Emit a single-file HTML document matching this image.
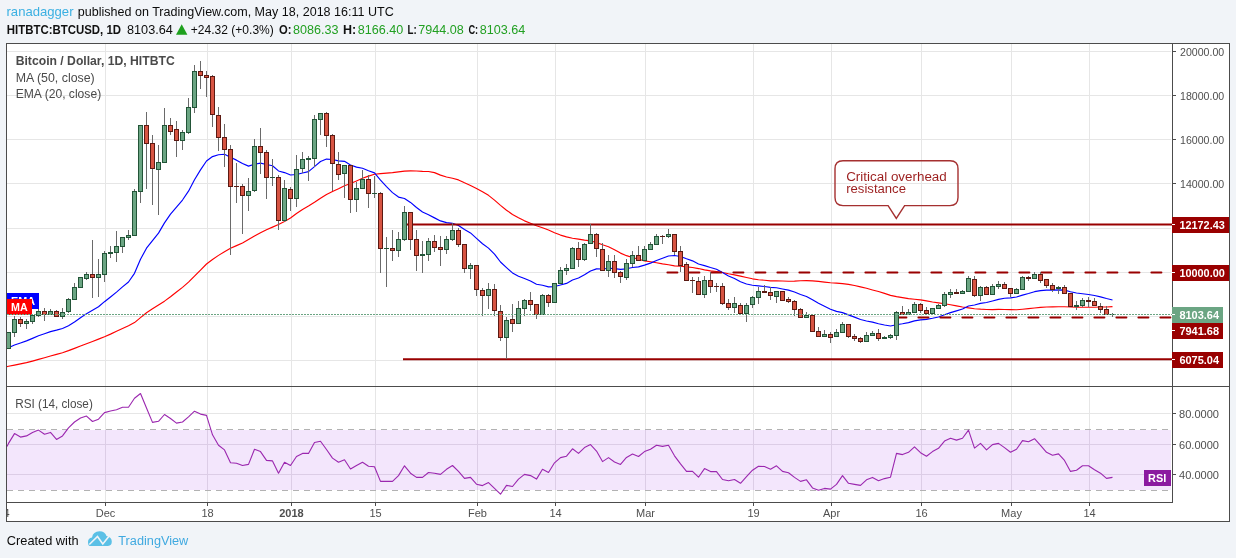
<!DOCTYPE html>
<html><head><meta charset="utf-8"><title>BTCUSD chart</title><style>html,body{margin:0;padding:0;background:#f1f4f8;}svg text{font-family:"Liberation Sans",sans-serif;}svg{will-change:transform;}</style></head><body>
<svg width="1236" height="558" viewBox="0 0 1236 558" style="display:block;font-family:'Liberation Sans',sans-serif">
<rect x="0" y="0" width="1236" height="558" fill="#f1f4f8"/>
<text x="6.5" y="15.8" font-size="13" fill="#3bb0e2" textLength="67" lengthAdjust="spacingAndGlyphs">ranadagger</text>
<text x="77.8" y="15.8" font-size="12.5" fill="#0c0c0c" textLength="316" lengthAdjust="spacingAndGlyphs">published on TradingView.com, May 18, 2018 16:11 UTC</text>
<text x="6.8" y="33.9" font-size="12" fill="#111" font-weight="bold" textLength="114.2" lengthAdjust="spacingAndGlyphs">HITBTC:BTCUSD, 1D</text>
<text x="127" y="33.9" font-size="12.5" fill="#0c0c0c" textLength="45.8" lengthAdjust="spacingAndGlyphs">8103.64</text>
<polygon points="176,34.8 187.4,34.8 181.7,24.3" fill="#1ea01e"/>
<text x="190.8" y="33.9" font-size="12.5" fill="#0c0c0c" textLength="83" lengthAdjust="spacingAndGlyphs">+24.32 (+0.3%)</text>
<text x="279" y="33.9" font-size="12" fill="#111" font-weight="bold" textLength="12.5" lengthAdjust="spacingAndGlyphs">O:</text>
<text x="293" y="33.9" font-size="12.5" fill="#22a022" textLength="45.5" lengthAdjust="spacingAndGlyphs">8086.33</text>
<text x="343" y="33.9" font-size="12" fill="#111" font-weight="bold" textLength="13.2" lengthAdjust="spacingAndGlyphs">H:</text>
<text x="357.7" y="33.9" font-size="12.5" fill="#22a022" textLength="45.5" lengthAdjust="spacingAndGlyphs">8166.40</text>
<text x="407.5" y="33.9" font-size="12" fill="#111" font-weight="bold" textLength="9.2" lengthAdjust="spacingAndGlyphs">L:</text>
<text x="418.2" y="33.9" font-size="12.5" fill="#22a022" textLength="45.5" lengthAdjust="spacingAndGlyphs">7944.08</text>
<text x="468.4" y="33.9" font-size="12" fill="#111" font-weight="bold" textLength="9.8" lengthAdjust="spacingAndGlyphs">C:</text>
<text x="479.7" y="33.9" font-size="12.5" fill="#22a022" textLength="45.5" lengthAdjust="spacingAndGlyphs">8103.64</text>
<rect x="6.5" y="43.5" width="1223" height="478" fill="#ffffff" stroke="#4c4c4c" stroke-width="1"/>
<g shape-rendering="crispEdges">
<rect x="105" y="44" width="1" height="342" fill="#e6e6e6"/>
<rect x="105" y="387" width="1" height="115" fill="#e6e6e6"/>
<rect x="207" y="44" width="1" height="342" fill="#e6e6e6"/>
<rect x="207" y="387" width="1" height="115" fill="#e6e6e6"/>
<rect x="291" y="44" width="1" height="342" fill="#e6e6e6"/>
<rect x="291" y="387" width="1" height="115" fill="#e6e6e6"/>
<rect x="375" y="44" width="1" height="342" fill="#e6e6e6"/>
<rect x="375" y="387" width="1" height="115" fill="#e6e6e6"/>
<rect x="477" y="44" width="1" height="342" fill="#e6e6e6"/>
<rect x="477" y="387" width="1" height="115" fill="#e6e6e6"/>
<rect x="555" y="44" width="1" height="342" fill="#e6e6e6"/>
<rect x="555" y="387" width="1" height="115" fill="#e6e6e6"/>
<rect x="645" y="44" width="1" height="342" fill="#e6e6e6"/>
<rect x="645" y="387" width="1" height="115" fill="#e6e6e6"/>
<rect x="753" y="44" width="1" height="342" fill="#e6e6e6"/>
<rect x="753" y="387" width="1" height="115" fill="#e6e6e6"/>
<rect x="831" y="44" width="1" height="342" fill="#e6e6e6"/>
<rect x="831" y="387" width="1" height="115" fill="#e6e6e6"/>
<rect x="921" y="44" width="1" height="342" fill="#e6e6e6"/>
<rect x="921" y="387" width="1" height="115" fill="#e6e6e6"/>
<rect x="1011" y="44" width="1" height="342" fill="#e6e6e6"/>
<rect x="1011" y="387" width="1" height="115" fill="#e6e6e6"/>
<rect x="1089" y="44" width="1" height="342" fill="#e6e6e6"/>
<rect x="1089" y="387" width="1" height="115" fill="#e6e6e6"/>
<rect x="7" y="51" width="1164" height="1" fill="#e6e6e6"/>
<rect x="7" y="95" width="1164" height="1" fill="#e6e6e6"/>
<rect x="7" y="139" width="1164" height="1" fill="#e6e6e6"/>
<rect x="7" y="183" width="1164" height="1" fill="#e6e6e6"/>
<rect x="7" y="228" width="1164" height="1" fill="#e6e6e6"/>
<rect x="7" y="272" width="1164" height="1" fill="#e6e6e6"/>
<rect x="7" y="316" width="1164" height="1" fill="#e6e6e6"/>
<rect x="7" y="360" width="1164" height="1" fill="#e6e6e6"/>
</g>
<clipPath id="pc"><rect x="7" y="44" width="1165" height="342"/></clipPath>
<g clip-path="url(#pc)">
<polyline points="7,366.60 8.5,366.30 14.5,365.07 20.5,363.84 26.5,362.61 32.5,361.08 38.5,359.41 44.5,357.73 50.5,356.05 56.5,354.38 62.5,352.70 68.5,350.66 74.5,348.37 80.5,346.08 86.5,343.78 92.5,341.49 98.5,339.10 104.5,336.70 110.5,334.13 116.5,331.33 122.5,328.53 128.5,325.73 134.5,322.58 140.5,317.64 146.5,312.70 152.5,308.85 158.5,305.00 164.5,301.15 170.5,296.72 176.5,292.03 182.5,287.34 188.5,282.10 194.5,276.10 200.5,270.07 206.5,264.01 212.5,259.48 218.5,255.38 224.5,251.67 230.5,248.19 236.5,245.62 242.5,243.06 248.5,239.58 254.5,236.07 260.5,232.77 266.5,229.67 272.5,227.11 278.5,224.54 284.5,221.55 290.5,218.03 296.5,213.54 302.5,209.43 308.5,206.10 314.5,202.34 320.5,198.17 326.5,194.45 332.5,191.43 338.5,188.69 344.5,185.71 350.5,183.47 356.5,180.91 362.5,178.24 368.5,176.12 374.5,174.25 380.5,173.67 386.5,173.15 392.5,172.61 398.5,171.90 404.5,171.09 410.5,170.84 416.5,171.03 422.5,171.36 428.5,171.49 434.5,172.61 440.5,175.10 446.5,177.02 452.5,178.26 458.5,179.91 464.5,182.77 470.5,185.45 476.5,188.43 482.5,191.69 488.5,195.34 494.5,200.12 500.5,205.36 506.5,210.22 512.5,214.41 518.5,217.83 524.5,220.84 530.5,223.20 536.5,225.75 542.5,227.75 548.5,229.98 554.5,232.72 560.5,235.08 566.5,236.89 572.5,238.30 578.5,239.08 584.5,240.19 590.5,240.91 596.5,242.51 602.5,244.73 608.5,246.79 614.5,249.85 620.5,253.12 626.5,255.67 632.5,257.50 638.5,259.22 644.5,260.89 650.5,261.78 656.5,262.75 662.5,263.90 668.5,264.71 674.5,265.88 680.5,266.22 686.5,266.86 692.5,267.46 698.5,268.56 704.5,269.92 710.5,270.85 716.5,271.46 722.5,272.45 728.5,273.78 734.5,274.88 740.5,276.16 746.5,277.48 752.5,278.81 758.5,279.75 764.5,280.23 770.5,280.83 776.5,280.87 782.5,280.96 788.5,281.21 794.5,281.18 800.5,280.78 806.5,280.69 812.5,280.84 818.5,281.41 824.5,282.08 830.5,282.75 836.5,283.11 842.5,283.68 848.5,284.37 854.5,285.47 860.5,286.90 866.5,288.24 872.5,289.94 878.5,291.53 884.5,293.39 890.5,295.41 896.5,296.68 902.5,297.57 908.5,298.59 914.5,299.22 920.5,299.91 926.5,300.92 932.5,301.98 938.5,302.88 944.5,303.78 950.5,304.74 956.5,305.88 962.5,306.98 968.5,307.86 974.5,308.74 980.5,309.18 986.5,309.46 992.5,309.57 998.5,309.37 1004.5,309.52 1010.5,309.67 1016.5,309.73 1022.5,309.21 1028.5,308.62 1034.5,308.04 1040.5,307.38 1046.5,306.99 1052.5,306.84 1058.5,306.76 1064.5,306.78 1070.5,307.00 1076.5,307.28 1082.5,307.28 1088.5,307.28 1094.5,307.20 1100.5,307.03 1106.5,307.01 1112.5,306.66" fill="none" stroke="#ff0000" stroke-width="1.15" stroke-linejoin="round"/>
<polyline points="7,348.00 8.5,347.70 14.5,344.97 20.5,342.92 26.5,340.86 32.5,338.40 38.5,335.82 44.5,333.76 50.5,331.62 56.5,330.16 62.5,328.45 68.5,325.67 74.5,322.02 80.5,317.75 86.5,313.64 92.5,310.19 98.5,306.80 104.5,301.68 110.5,296.95 116.5,292.12 122.5,286.90 128.5,281.98 134.5,273.34 140.5,259.25 146.5,248.21 152.5,240.60 158.5,233.15 164.5,222.89 170.5,214.17 176.5,207.16 182.5,200.02 188.5,191.17 194.5,179.75 200.5,169.84 206.5,161.03 212.5,156.58 218.5,154.75 224.5,154.26 230.5,157.35 236.5,160.13 242.5,163.50 248.5,166.14 254.5,164.24 260.5,163.12 266.5,164.50 272.5,165.71 278.5,170.93 284.5,172.58 290.5,175.04 296.5,174.47 302.5,173.03 308.5,171.64 314.5,166.65 320.5,161.55 326.5,159.07 332.5,159.50 338.5,160.92 344.5,161.35 350.5,164.97 356.5,167.16 362.5,168.28 368.5,170.67 374.5,172.84 380.5,180.04 386.5,186.56 392.5,192.64 398.5,197.07 404.5,198.52 410.5,202.43 416.5,207.51 422.5,211.94 428.5,214.75 434.5,217.88 440.5,220.91 446.5,222.67 452.5,223.39 458.5,225.42 464.5,229.52 470.5,232.93 476.5,238.33 482.5,243.77 488.5,248.10 494.5,254.06 500.5,262.02 506.5,267.58 512.5,272.91 518.5,276.29 524.5,278.58 530.5,281.04 536.5,284.21 542.5,285.26 548.5,286.90 554.5,286.56 560.5,285.02 566.5,283.42 572.5,280.05 578.5,278.07 584.5,274.83 590.5,270.96 596.5,268.87 602.5,269.01 608.5,268.29 614.5,268.68 620.5,269.40 626.5,268.81 632.5,267.53 638.5,266.83 644.5,265.13 650.5,263.12 656.5,260.56 662.5,258.25 668.5,255.96 674.5,255.55 680.5,256.51 686.5,258.78 692.5,260.84 698.5,264.02 704.5,265.58 710.5,267.54 716.5,269.32 722.5,272.58 728.5,275.92 734.5,278.50 740.5,281.82 746.5,284.06 752.5,285.30 758.5,285.88 764.5,286.52 770.5,287.36 776.5,287.74 782.5,288.94 788.5,290.14 794.5,291.97 800.5,294.42 806.5,296.44 812.5,299.76 818.5,303.28 824.5,306.20 830.5,309.20 836.5,311.39 842.5,312.60 848.5,314.90 854.5,317.14 860.5,319.48 866.5,321.00 872.5,322.15 878.5,323.71 884.5,324.99 890.5,325.98 896.5,324.70 902.5,323.75 908.5,322.65 914.5,320.88 920.5,319.94 926.5,319.34 932.5,318.28 938.5,317.03 944.5,314.83 950.5,312.66 956.5,310.84 962.5,308.97 968.5,306.03 974.5,305.04 980.5,303.35 986.5,302.50 992.5,300.95 998.5,299.33 1004.5,298.27 1010.5,297.81 1016.5,297.00 1022.5,295.12 1028.5,293.54 1034.5,291.68 1040.5,290.60 1046.5,290.13 1052.5,290.08 1058.5,289.83 1064.5,290.17 1070.5,291.71 1076.5,293.01 1082.5,293.72 1088.5,294.46 1094.5,295.50 1100.5,296.83 1106.5,298.52 1112.5,299.97" fill="none" stroke="#0000ff" stroke-width="1.15" stroke-linejoin="round"/>
<line x1="407" y1="224.6" x2="1172" y2="224.6" stroke="#990000" stroke-width="2"/>
<line x1="403" y1="359.3" x2="1172" y2="359.3" stroke="#990000" stroke-width="2"/>
<line x1="667.4" y1="272.4" x2="1171" y2="272.4" stroke="#990000" stroke-width="2" stroke-linecap="round" stroke-dasharray="10 12"/>
<line x1="896.4" y1="317.5" x2="1171" y2="317.5" stroke="#990000" stroke-width="2" stroke-linecap="round" stroke-dasharray="10 12"/>
<g shape-rendering="crispEdges">
<rect x="8" y="332" width="1" height="17" fill="#6a6a6a"/>
<rect x="6" y="332" width="5" height="17" fill="#225437"/>
<rect x="7" y="333" width="3" height="15" fill="#6ba583"/>
<rect x="14" y="316" width="1" height="21" fill="#6a6a6a"/>
<rect x="12" y="319" width="5" height="14" fill="#225437"/>
<rect x="13" y="320" width="3" height="12" fill="#6ba583"/>
<rect x="20" y="317" width="1" height="10" fill="#6a6a6a"/>
<rect x="18" y="319" width="5" height="5" fill="#5b1a13"/>
<rect x="19" y="320" width="3" height="3" fill="#d75442"/>
<rect x="26" y="319" width="1" height="10" fill="#6a6a6a"/>
<rect x="24" y="321" width="5" height="3" fill="#225437"/>
<rect x="25" y="322" width="3" height="1" fill="#6ba583"/>
<rect x="32" y="314" width="1" height="10" fill="#6a6a6a"/>
<rect x="30" y="315" width="5" height="7" fill="#225437"/>
<rect x="31" y="316" width="3" height="5" fill="#6ba583"/>
<rect x="38" y="309" width="1" height="8" fill="#6a6a6a"/>
<rect x="36" y="311" width="5" height="5" fill="#225437"/>
<rect x="37" y="312" width="3" height="3" fill="#6ba583"/>
<rect x="44" y="308" width="1" height="13" fill="#6a6a6a"/>
<rect x="42" y="311" width="5" height="4" fill="#5b1a13"/>
<rect x="43" y="312" width="3" height="2" fill="#d75442"/>
<rect x="50" y="309" width="1" height="6" fill="#6a6a6a"/>
<rect x="48" y="311" width="5" height="4" fill="#225437"/>
<rect x="49" y="312" width="3" height="2" fill="#6ba583"/>
<rect x="56" y="310" width="1" height="7" fill="#6a6a6a"/>
<rect x="54" y="311" width="5" height="6" fill="#5b1a13"/>
<rect x="55" y="312" width="3" height="4" fill="#d75442"/>
<rect x="62" y="308" width="1" height="11" fill="#6a6a6a"/>
<rect x="60" y="312" width="5" height="5" fill="#225437"/>
<rect x="61" y="313" width="3" height="3" fill="#6ba583"/>
<rect x="68" y="298" width="1" height="15" fill="#6a6a6a"/>
<rect x="66" y="299" width="5" height="13" fill="#225437"/>
<rect x="67" y="300" width="3" height="11" fill="#6ba583"/>
<rect x="74" y="283" width="1" height="17" fill="#6a6a6a"/>
<rect x="72" y="287" width="5" height="13" fill="#225437"/>
<rect x="73" y="288" width="3" height="11" fill="#6ba583"/>
<rect x="80" y="277" width="1" height="11" fill="#6a6a6a"/>
<rect x="78" y="277" width="5" height="11" fill="#225437"/>
<rect x="79" y="278" width="3" height="9" fill="#6ba583"/>
<rect x="86" y="272" width="1" height="8" fill="#6a6a6a"/>
<rect x="84" y="274" width="5" height="5" fill="#225437"/>
<rect x="85" y="275" width="3" height="3" fill="#6ba583"/>
<rect x="92" y="240" width="1" height="58" fill="#6a6a6a"/>
<rect x="90" y="274" width="5" height="4" fill="#5b1a13"/>
<rect x="91" y="275" width="3" height="2" fill="#d75442"/>
<rect x="98" y="259" width="1" height="38" fill="#6a6a6a"/>
<rect x="96" y="274" width="5" height="4" fill="#225437"/>
<rect x="97" y="275" width="3" height="2" fill="#6ba583"/>
<rect x="104" y="251" width="1" height="31" fill="#6a6a6a"/>
<rect x="102" y="253" width="5" height="22" fill="#225437"/>
<rect x="103" y="254" width="3" height="20" fill="#6ba583"/>
<rect x="110" y="246" width="1" height="12" fill="#6a6a6a"/>
<rect x="108" y="252" width="5" height="2" fill="#225437"/>
<rect x="116" y="231" width="1" height="31" fill="#6a6a6a"/>
<rect x="114" y="246" width="5" height="7" fill="#225437"/>
<rect x="115" y="247" width="3" height="5" fill="#6ba583"/>
<rect x="122" y="237" width="1" height="16" fill="#6a6a6a"/>
<rect x="120" y="237" width="5" height="10" fill="#225437"/>
<rect x="121" y="238" width="3" height="8" fill="#6ba583"/>
<rect x="128" y="230" width="1" height="10" fill="#6a6a6a"/>
<rect x="126" y="235" width="5" height="3" fill="#225437"/>
<rect x="127" y="236" width="3" height="1" fill="#6ba583"/>
<rect x="134" y="189" width="1" height="47" fill="#6a6a6a"/>
<rect x="132" y="191" width="5" height="45" fill="#225437"/>
<rect x="133" y="192" width="3" height="43" fill="#6ba583"/>
<rect x="140" y="125" width="1" height="78" fill="#6a6a6a"/>
<rect x="138" y="125" width="5" height="67" fill="#225437"/>
<rect x="139" y="126" width="3" height="65" fill="#6ba583"/>
<rect x="146" y="112" width="1" height="77" fill="#6a6a6a"/>
<rect x="144" y="125" width="5" height="19" fill="#5b1a13"/>
<rect x="145" y="126" width="3" height="17" fill="#d75442"/>
<rect x="152" y="135" width="1" height="70" fill="#6a6a6a"/>
<rect x="150" y="143" width="5" height="26" fill="#5b1a13"/>
<rect x="151" y="144" width="3" height="24" fill="#d75442"/>
<rect x="158" y="145" width="1" height="70" fill="#6a6a6a"/>
<rect x="156" y="162" width="5" height="8" fill="#225437"/>
<rect x="157" y="163" width="3" height="6" fill="#6ba583"/>
<rect x="164" y="108" width="1" height="54" fill="#6a6a6a"/>
<rect x="162" y="125" width="5" height="38" fill="#225437"/>
<rect x="163" y="126" width="3" height="36" fill="#6ba583"/>
<rect x="170" y="118" width="1" height="17" fill="#6a6a6a"/>
<rect x="168" y="125" width="5" height="7" fill="#5b1a13"/>
<rect x="169" y="126" width="3" height="5" fill="#d75442"/>
<rect x="176" y="121" width="1" height="36" fill="#6a6a6a"/>
<rect x="174" y="129" width="5" height="12" fill="#5b1a13"/>
<rect x="175" y="130" width="3" height="10" fill="#d75442"/>
<rect x="182" y="130" width="1" height="20" fill="#6a6a6a"/>
<rect x="180" y="132" width="5" height="9" fill="#225437"/>
<rect x="181" y="133" width="3" height="7" fill="#6ba583"/>
<rect x="188" y="98" width="1" height="36" fill="#6a6a6a"/>
<rect x="186" y="107" width="5" height="26" fill="#225437"/>
<rect x="187" y="108" width="3" height="24" fill="#6ba583"/>
<rect x="194" y="65" width="1" height="48" fill="#6a6a6a"/>
<rect x="192" y="71" width="5" height="37" fill="#225437"/>
<rect x="193" y="72" width="3" height="35" fill="#6ba583"/>
<rect x="200" y="61" width="1" height="28" fill="#6a6a6a"/>
<rect x="198" y="71" width="5" height="5" fill="#5b1a13"/>
<rect x="199" y="72" width="3" height="3" fill="#d75442"/>
<rect x="206" y="71" width="1" height="26" fill="#6a6a6a"/>
<rect x="204" y="75" width="5" height="3" fill="#5b1a13"/>
<rect x="205" y="76" width="3" height="1" fill="#d75442"/>
<rect x="212" y="75" width="1" height="52" fill="#6a6a6a"/>
<rect x="210" y="76" width="5" height="39" fill="#5b1a13"/>
<rect x="211" y="77" width="3" height="37" fill="#d75442"/>
<rect x="218" y="107" width="1" height="44" fill="#6a6a6a"/>
<rect x="216" y="115" width="5" height="23" fill="#5b1a13"/>
<rect x="217" y="116" width="3" height="21" fill="#d75442"/>
<rect x="224" y="124" width="1" height="43" fill="#6a6a6a"/>
<rect x="222" y="137" width="5" height="13" fill="#5b1a13"/>
<rect x="223" y="138" width="3" height="11" fill="#d75442"/>
<rect x="230" y="145" width="1" height="110" fill="#6a6a6a"/>
<rect x="228" y="149" width="5" height="38" fill="#5b1a13"/>
<rect x="229" y="150" width="3" height="36" fill="#d75442"/>
<rect x="236" y="163" width="1" height="40" fill="#6a6a6a"/>
<rect x="234" y="186" width="5" height="1" fill="#5b1a13"/>
<rect x="242" y="184" width="1" height="50" fill="#6a6a6a"/>
<rect x="240" y="186" width="5" height="10" fill="#5b1a13"/>
<rect x="241" y="187" width="3" height="8" fill="#d75442"/>
<rect x="248" y="178" width="1" height="33" fill="#6a6a6a"/>
<rect x="246" y="191" width="5" height="5" fill="#225437"/>
<rect x="247" y="192" width="3" height="3" fill="#6ba583"/>
<rect x="254" y="139" width="1" height="53" fill="#6a6a6a"/>
<rect x="252" y="146" width="5" height="45" fill="#225437"/>
<rect x="253" y="147" width="3" height="43" fill="#6ba583"/>
<rect x="260" y="128" width="1" height="46" fill="#6a6a6a"/>
<rect x="258" y="146" width="5" height="7" fill="#5b1a13"/>
<rect x="259" y="147" width="3" height="5" fill="#d75442"/>
<rect x="266" y="150" width="1" height="49" fill="#6a6a6a"/>
<rect x="264" y="152" width="5" height="26" fill="#5b1a13"/>
<rect x="265" y="153" width="3" height="24" fill="#d75442"/>
<rect x="272" y="159" width="1" height="27" fill="#6a6a6a"/>
<rect x="270" y="177" width="5" height="1" fill="#225437"/>
<rect x="278" y="175" width="1" height="55" fill="#6a6a6a"/>
<rect x="276" y="177" width="5" height="44" fill="#5b1a13"/>
<rect x="277" y="178" width="3" height="42" fill="#d75442"/>
<rect x="284" y="180" width="1" height="42" fill="#6a6a6a"/>
<rect x="282" y="188" width="5" height="33" fill="#225437"/>
<rect x="283" y="189" width="3" height="31" fill="#6ba583"/>
<rect x="290" y="187" width="1" height="24" fill="#6a6a6a"/>
<rect x="288" y="189" width="5" height="10" fill="#5b1a13"/>
<rect x="289" y="190" width="3" height="8" fill="#d75442"/>
<rect x="296" y="155" width="1" height="52" fill="#6a6a6a"/>
<rect x="294" y="169" width="5" height="30" fill="#225437"/>
<rect x="295" y="170" width="3" height="28" fill="#6ba583"/>
<rect x="302" y="152" width="1" height="21" fill="#6a6a6a"/>
<rect x="300" y="159" width="5" height="10" fill="#225437"/>
<rect x="301" y="160" width="3" height="8" fill="#6ba583"/>
<rect x="308" y="156" width="1" height="25" fill="#6a6a6a"/>
<rect x="306" y="158" width="5" height="2" fill="#225437"/>
<rect x="314" y="115" width="1" height="52" fill="#6a6a6a"/>
<rect x="312" y="119" width="5" height="40" fill="#225437"/>
<rect x="313" y="120" width="3" height="38" fill="#6ba583"/>
<rect x="320" y="113" width="1" height="22" fill="#6a6a6a"/>
<rect x="318" y="113" width="5" height="7" fill="#225437"/>
<rect x="319" y="114" width="3" height="5" fill="#6ba583"/>
<rect x="326" y="112" width="1" height="35" fill="#6a6a6a"/>
<rect x="324" y="113" width="5" height="23" fill="#5b1a13"/>
<rect x="325" y="114" width="3" height="21" fill="#d75442"/>
<rect x="332" y="134" width="1" height="57" fill="#6a6a6a"/>
<rect x="330" y="135" width="5" height="29" fill="#5b1a13"/>
<rect x="331" y="136" width="3" height="27" fill="#d75442"/>
<rect x="338" y="152" width="1" height="28" fill="#6a6a6a"/>
<rect x="336" y="164" width="5" height="11" fill="#5b1a13"/>
<rect x="337" y="165" width="3" height="9" fill="#d75442"/>
<rect x="344" y="165" width="1" height="33" fill="#6a6a6a"/>
<rect x="342" y="165" width="5" height="9" fill="#225437"/>
<rect x="343" y="166" width="3" height="7" fill="#6ba583"/>
<rect x="350" y="165" width="1" height="48" fill="#6a6a6a"/>
<rect x="348" y="165" width="5" height="35" fill="#5b1a13"/>
<rect x="349" y="166" width="3" height="33" fill="#d75442"/>
<rect x="356" y="182" width="1" height="30" fill="#6a6a6a"/>
<rect x="354" y="188" width="5" height="12" fill="#225437"/>
<rect x="355" y="189" width="3" height="10" fill="#6ba583"/>
<rect x="362" y="170" width="1" height="18" fill="#6a6a6a"/>
<rect x="360" y="179" width="5" height="10" fill="#225437"/>
<rect x="361" y="180" width="3" height="8" fill="#6ba583"/>
<rect x="368" y="175" width="1" height="33" fill="#6a6a6a"/>
<rect x="366" y="179" width="5" height="15" fill="#5b1a13"/>
<rect x="367" y="180" width="3" height="13" fill="#d75442"/>
<rect x="374" y="176" width="1" height="22" fill="#6a6a6a"/>
<rect x="372" y="193" width="5" height="1" fill="#225437"/>
<rect x="380" y="192" width="1" height="81" fill="#6a6a6a"/>
<rect x="378" y="193" width="5" height="56" fill="#5b1a13"/>
<rect x="379" y="194" width="3" height="54" fill="#d75442"/>
<rect x="386" y="237" width="1" height="50" fill="#6a6a6a"/>
<rect x="384" y="248" width="5" height="1" fill="#225437"/>
<rect x="392" y="230" width="1" height="31" fill="#6a6a6a"/>
<rect x="390" y="248" width="5" height="3" fill="#5b1a13"/>
<rect x="391" y="249" width="3" height="1" fill="#d75442"/>
<rect x="398" y="232" width="1" height="25" fill="#6a6a6a"/>
<rect x="396" y="239" width="5" height="12" fill="#225437"/>
<rect x="397" y="240" width="3" height="10" fill="#6ba583"/>
<rect x="404" y="206" width="1" height="35" fill="#6a6a6a"/>
<rect x="402" y="212" width="5" height="28" fill="#225437"/>
<rect x="403" y="213" width="3" height="26" fill="#6ba583"/>
<rect x="410" y="212" width="1" height="38" fill="#6a6a6a"/>
<rect x="408" y="212" width="5" height="28" fill="#5b1a13"/>
<rect x="409" y="213" width="3" height="26" fill="#d75442"/>
<rect x="416" y="230" width="1" height="41" fill="#6a6a6a"/>
<rect x="414" y="239" width="5" height="17" fill="#5b1a13"/>
<rect x="415" y="240" width="3" height="15" fill="#d75442"/>
<rect x="422" y="241" width="1" height="32" fill="#6a6a6a"/>
<rect x="420" y="254" width="5" height="2" fill="#225437"/>
<rect x="428" y="238" width="1" height="23" fill="#6a6a6a"/>
<rect x="426" y="241" width="5" height="14" fill="#225437"/>
<rect x="427" y="242" width="3" height="12" fill="#6ba583"/>
<rect x="434" y="235" width="1" height="17" fill="#6a6a6a"/>
<rect x="432" y="241" width="5" height="7" fill="#5b1a13"/>
<rect x="433" y="242" width="3" height="5" fill="#d75442"/>
<rect x="440" y="236" width="1" height="30" fill="#6a6a6a"/>
<rect x="438" y="247" width="5" height="3" fill="#5b1a13"/>
<rect x="439" y="248" width="3" height="1" fill="#d75442"/>
<rect x="446" y="236" width="1" height="18" fill="#6a6a6a"/>
<rect x="444" y="239" width="5" height="11" fill="#225437"/>
<rect x="445" y="240" width="3" height="9" fill="#6ba583"/>
<rect x="452" y="223" width="1" height="18" fill="#6a6a6a"/>
<rect x="450" y="230" width="5" height="10" fill="#225437"/>
<rect x="451" y="231" width="3" height="8" fill="#6ba583"/>
<rect x="458" y="228" width="1" height="19" fill="#6a6a6a"/>
<rect x="456" y="230" width="5" height="15" fill="#5b1a13"/>
<rect x="457" y="231" width="3" height="13" fill="#d75442"/>
<rect x="464" y="244" width="1" height="29" fill="#6a6a6a"/>
<rect x="462" y="244" width="5" height="25" fill="#5b1a13"/>
<rect x="463" y="245" width="3" height="23" fill="#d75442"/>
<rect x="470" y="263" width="1" height="16" fill="#6a6a6a"/>
<rect x="468" y="265" width="5" height="4" fill="#225437"/>
<rect x="469" y="266" width="3" height="2" fill="#6ba583"/>
<rect x="476" y="265" width="1" height="31" fill="#6a6a6a"/>
<rect x="474" y="265" width="5" height="25" fill="#5b1a13"/>
<rect x="475" y="266" width="3" height="23" fill="#d75442"/>
<rect x="482" y="288" width="1" height="28" fill="#6a6a6a"/>
<rect x="480" y="290" width="5" height="6" fill="#5b1a13"/>
<rect x="481" y="291" width="3" height="4" fill="#d75442"/>
<rect x="488" y="283" width="1" height="26" fill="#6a6a6a"/>
<rect x="486" y="289" width="5" height="7" fill="#225437"/>
<rect x="487" y="290" width="3" height="5" fill="#6ba583"/>
<rect x="494" y="284" width="1" height="32" fill="#6a6a6a"/>
<rect x="492" y="289" width="5" height="22" fill="#5b1a13"/>
<rect x="493" y="290" width="3" height="20" fill="#d75442"/>
<rect x="500" y="305" width="1" height="36" fill="#6a6a6a"/>
<rect x="498" y="311" width="5" height="27" fill="#5b1a13"/>
<rect x="499" y="312" width="3" height="25" fill="#d75442"/>
<rect x="506" y="317" width="1" height="42" fill="#6a6a6a"/>
<rect x="504" y="320" width="5" height="18" fill="#225437"/>
<rect x="505" y="321" width="3" height="16" fill="#6ba583"/>
<rect x="512" y="304" width="1" height="28" fill="#6a6a6a"/>
<rect x="510" y="319" width="5" height="5" fill="#5b1a13"/>
<rect x="511" y="320" width="3" height="3" fill="#d75442"/>
<rect x="518" y="301" width="1" height="23" fill="#6a6a6a"/>
<rect x="516" y="308" width="5" height="16" fill="#225437"/>
<rect x="517" y="309" width="3" height="14" fill="#6ba583"/>
<rect x="524" y="299" width="1" height="17" fill="#6a6a6a"/>
<rect x="522" y="300" width="5" height="9" fill="#225437"/>
<rect x="523" y="301" width="3" height="7" fill="#6ba583"/>
<rect x="530" y="292" width="1" height="19" fill="#6a6a6a"/>
<rect x="528" y="300" width="5" height="5" fill="#5b1a13"/>
<rect x="529" y="301" width="3" height="3" fill="#d75442"/>
<rect x="536" y="304" width="1" height="15" fill="#6a6a6a"/>
<rect x="534" y="304" width="5" height="11" fill="#5b1a13"/>
<rect x="535" y="305" width="3" height="9" fill="#d75442"/>
<rect x="542" y="294" width="1" height="20" fill="#6a6a6a"/>
<rect x="540" y="295" width="5" height="20" fill="#225437"/>
<rect x="541" y="296" width="3" height="18" fill="#6ba583"/>
<rect x="548" y="294" width="1" height="13" fill="#6a6a6a"/>
<rect x="546" y="295" width="5" height="8" fill="#5b1a13"/>
<rect x="547" y="296" width="3" height="6" fill="#d75442"/>
<rect x="554" y="283" width="1" height="20" fill="#6a6a6a"/>
<rect x="552" y="283" width="5" height="20" fill="#225437"/>
<rect x="553" y="284" width="3" height="18" fill="#6ba583"/>
<rect x="560" y="267" width="1" height="17" fill="#6a6a6a"/>
<rect x="558" y="270" width="5" height="14" fill="#225437"/>
<rect x="559" y="271" width="3" height="12" fill="#6ba583"/>
<rect x="566" y="264" width="1" height="11" fill="#6a6a6a"/>
<rect x="564" y="268" width="5" height="3" fill="#225437"/>
<rect x="565" y="269" width="3" height="1" fill="#6ba583"/>
<rect x="572" y="247" width="1" height="22" fill="#6a6a6a"/>
<rect x="570" y="248" width="5" height="21" fill="#225437"/>
<rect x="571" y="249" width="3" height="19" fill="#6ba583"/>
<rect x="578" y="242" width="1" height="25" fill="#6a6a6a"/>
<rect x="576" y="248" width="5" height="12" fill="#5b1a13"/>
<rect x="577" y="249" width="3" height="10" fill="#d75442"/>
<rect x="584" y="243" width="1" height="18" fill="#6a6a6a"/>
<rect x="582" y="244" width="5" height="16" fill="#225437"/>
<rect x="583" y="245" width="3" height="14" fill="#6ba583"/>
<rect x="590" y="224" width="1" height="20" fill="#6a6a6a"/>
<rect x="588" y="234" width="5" height="10" fill="#225437"/>
<rect x="589" y="235" width="3" height="8" fill="#6ba583"/>
<rect x="596" y="233" width="1" height="24" fill="#6a6a6a"/>
<rect x="594" y="234" width="5" height="15" fill="#5b1a13"/>
<rect x="595" y="235" width="3" height="13" fill="#d75442"/>
<rect x="602" y="243" width="1" height="27" fill="#6a6a6a"/>
<rect x="600" y="249" width="5" height="22" fill="#5b1a13"/>
<rect x="601" y="250" width="3" height="20" fill="#d75442"/>
<rect x="608" y="255" width="1" height="22" fill="#6a6a6a"/>
<rect x="606" y="261" width="5" height="10" fill="#225437"/>
<rect x="607" y="262" width="3" height="8" fill="#6ba583"/>
<rect x="614" y="255" width="1" height="23" fill="#6a6a6a"/>
<rect x="612" y="261" width="5" height="12" fill="#5b1a13"/>
<rect x="613" y="262" width="3" height="10" fill="#d75442"/>
<rect x="620" y="271" width="1" height="12" fill="#6a6a6a"/>
<rect x="618" y="272" width="5" height="5" fill="#5b1a13"/>
<rect x="619" y="273" width="3" height="3" fill="#d75442"/>
<rect x="626" y="259" width="1" height="21" fill="#6a6a6a"/>
<rect x="624" y="263" width="5" height="15" fill="#225437"/>
<rect x="625" y="264" width="3" height="13" fill="#6ba583"/>
<rect x="632" y="251" width="1" height="16" fill="#6a6a6a"/>
<rect x="630" y="255" width="5" height="9" fill="#225437"/>
<rect x="631" y="256" width="3" height="7" fill="#6ba583"/>
<rect x="638" y="246" width="1" height="15" fill="#6a6a6a"/>
<rect x="636" y="255" width="5" height="6" fill="#5b1a13"/>
<rect x="637" y="256" width="3" height="4" fill="#d75442"/>
<rect x="644" y="246" width="1" height="15" fill="#6a6a6a"/>
<rect x="642" y="249" width="5" height="12" fill="#225437"/>
<rect x="643" y="250" width="3" height="10" fill="#6ba583"/>
<rect x="650" y="242" width="1" height="7" fill="#6a6a6a"/>
<rect x="648" y="244" width="5" height="6" fill="#225437"/>
<rect x="649" y="245" width="3" height="4" fill="#6ba583"/>
<rect x="656" y="234" width="1" height="10" fill="#6a6a6a"/>
<rect x="654" y="236" width="5" height="9" fill="#225437"/>
<rect x="655" y="237" width="3" height="7" fill="#6ba583"/>
<rect x="662" y="235" width="1" height="9" fill="#6a6a6a"/>
<rect x="660" y="236" width="5" height="1" fill="#5b1a13"/>
<rect x="668" y="229" width="1" height="9" fill="#6a6a6a"/>
<rect x="666" y="234" width="5" height="3" fill="#225437"/>
<rect x="667" y="235" width="3" height="1" fill="#6ba583"/>
<rect x="674" y="234" width="1" height="21" fill="#6a6a6a"/>
<rect x="672" y="234" width="5" height="18" fill="#5b1a13"/>
<rect x="673" y="235" width="3" height="16" fill="#d75442"/>
<rect x="680" y="246" width="1" height="26" fill="#6a6a6a"/>
<rect x="678" y="251" width="5" height="15" fill="#5b1a13"/>
<rect x="679" y="252" width="3" height="13" fill="#d75442"/>
<rect x="686" y="262" width="1" height="18" fill="#6a6a6a"/>
<rect x="684" y="264" width="5" height="17" fill="#5b1a13"/>
<rect x="685" y="265" width="3" height="15" fill="#d75442"/>
<rect x="692" y="277" width="1" height="16" fill="#6a6a6a"/>
<rect x="690" y="280" width="5" height="1" fill="#5b1a13"/>
<rect x="698" y="277" width="1" height="17" fill="#6a6a6a"/>
<rect x="696" y="281" width="5" height="14" fill="#5b1a13"/>
<rect x="697" y="282" width="3" height="12" fill="#d75442"/>
<rect x="704" y="276" width="1" height="22" fill="#6a6a6a"/>
<rect x="702" y="280" width="5" height="15" fill="#225437"/>
<rect x="703" y="281" width="3" height="13" fill="#6ba583"/>
<rect x="710" y="272" width="1" height="21" fill="#6a6a6a"/>
<rect x="708" y="280" width="5" height="7" fill="#5b1a13"/>
<rect x="709" y="281" width="3" height="5" fill="#d75442"/>
<rect x="716" y="283" width="1" height="9" fill="#6a6a6a"/>
<rect x="714" y="286" width="5" height="1" fill="#5b1a13"/>
<rect x="722" y="283" width="1" height="22" fill="#6a6a6a"/>
<rect x="720" y="286" width="5" height="18" fill="#5b1a13"/>
<rect x="721" y="287" width="3" height="16" fill="#d75442"/>
<rect x="728" y="299" width="1" height="11" fill="#6a6a6a"/>
<rect x="726" y="303" width="5" height="5" fill="#5b1a13"/>
<rect x="727" y="304" width="3" height="3" fill="#d75442"/>
<rect x="734" y="297" width="1" height="16" fill="#6a6a6a"/>
<rect x="732" y="303" width="5" height="5" fill="#225437"/>
<rect x="733" y="304" width="3" height="3" fill="#6ba583"/>
<rect x="740" y="303" width="1" height="10" fill="#6a6a6a"/>
<rect x="738" y="305" width="5" height="9" fill="#5b1a13"/>
<rect x="739" y="306" width="3" height="7" fill="#d75442"/>
<rect x="746" y="303" width="1" height="19" fill="#6a6a6a"/>
<rect x="744" y="305" width="5" height="9" fill="#225437"/>
<rect x="745" y="306" width="3" height="7" fill="#6ba583"/>
<rect x="752" y="296" width="1" height="12" fill="#6a6a6a"/>
<rect x="750" y="297" width="5" height="8" fill="#225437"/>
<rect x="751" y="298" width="3" height="6" fill="#6ba583"/>
<rect x="758" y="287" width="1" height="17" fill="#6a6a6a"/>
<rect x="756" y="291" width="5" height="7" fill="#225437"/>
<rect x="757" y="292" width="3" height="5" fill="#6ba583"/>
<rect x="764" y="285" width="1" height="8" fill="#6a6a6a"/>
<rect x="762" y="291" width="5" height="2" fill="#5b1a13"/>
<rect x="770" y="287" width="1" height="13" fill="#6a6a6a"/>
<rect x="768" y="292" width="5" height="4" fill="#5b1a13"/>
<rect x="769" y="293" width="3" height="2" fill="#d75442"/>
<rect x="776" y="291" width="1" height="12" fill="#6a6a6a"/>
<rect x="774" y="291" width="5" height="6" fill="#225437"/>
<rect x="775" y="292" width="3" height="4" fill="#6ba583"/>
<rect x="782" y="291" width="1" height="9" fill="#6a6a6a"/>
<rect x="780" y="291" width="5" height="10" fill="#5b1a13"/>
<rect x="781" y="292" width="3" height="8" fill="#d75442"/>
<rect x="788" y="297" width="1" height="6" fill="#6a6a6a"/>
<rect x="786" y="299" width="5" height="3" fill="#5b1a13"/>
<rect x="787" y="300" width="3" height="1" fill="#d75442"/>
<rect x="794" y="300" width="1" height="16" fill="#6a6a6a"/>
<rect x="792" y="301" width="5" height="9" fill="#5b1a13"/>
<rect x="793" y="302" width="3" height="7" fill="#d75442"/>
<rect x="800" y="308" width="1" height="10" fill="#6a6a6a"/>
<rect x="798" y="309" width="5" height="9" fill="#5b1a13"/>
<rect x="799" y="310" width="3" height="7" fill="#d75442"/>
<rect x="806" y="312" width="1" height="6" fill="#6a6a6a"/>
<rect x="804" y="315" width="5" height="3" fill="#225437"/>
<rect x="805" y="316" width="3" height="1" fill="#6ba583"/>
<rect x="812" y="316" width="1" height="15" fill="#6a6a6a"/>
<rect x="810" y="315" width="5" height="17" fill="#5b1a13"/>
<rect x="811" y="316" width="3" height="15" fill="#d75442"/>
<rect x="818" y="327" width="1" height="10" fill="#6a6a6a"/>
<rect x="816" y="331" width="5" height="6" fill="#5b1a13"/>
<rect x="817" y="332" width="3" height="4" fill="#d75442"/>
<rect x="824" y="330" width="1" height="7" fill="#6a6a6a"/>
<rect x="822" y="334" width="5" height="3" fill="#225437"/>
<rect x="823" y="335" width="3" height="1" fill="#6ba583"/>
<rect x="830" y="332" width="1" height="11" fill="#6a6a6a"/>
<rect x="828" y="334" width="5" height="4" fill="#5b1a13"/>
<rect x="829" y="335" width="3" height="2" fill="#d75442"/>
<rect x="836" y="329" width="1" height="8" fill="#6a6a6a"/>
<rect x="834" y="332" width="5" height="5" fill="#225437"/>
<rect x="835" y="333" width="3" height="3" fill="#6ba583"/>
<rect x="842" y="322" width="1" height="11" fill="#6a6a6a"/>
<rect x="840" y="324" width="5" height="9" fill="#225437"/>
<rect x="841" y="325" width="3" height="7" fill="#6ba583"/>
<rect x="848" y="324" width="1" height="14" fill="#6a6a6a"/>
<rect x="846" y="324" width="5" height="13" fill="#5b1a13"/>
<rect x="847" y="325" width="3" height="11" fill="#d75442"/>
<rect x="854" y="334" width="1" height="7" fill="#6a6a6a"/>
<rect x="852" y="336" width="5" height="3" fill="#5b1a13"/>
<rect x="853" y="337" width="3" height="1" fill="#d75442"/>
<rect x="860" y="337" width="1" height="6" fill="#6a6a6a"/>
<rect x="858" y="338" width="5" height="4" fill="#5b1a13"/>
<rect x="859" y="339" width="3" height="2" fill="#d75442"/>
<rect x="866" y="332" width="1" height="10" fill="#6a6a6a"/>
<rect x="864" y="335" width="5" height="7" fill="#225437"/>
<rect x="865" y="336" width="3" height="5" fill="#6ba583"/>
<rect x="872" y="331" width="1" height="5" fill="#6a6a6a"/>
<rect x="870" y="333" width="5" height="3" fill="#225437"/>
<rect x="871" y="334" width="3" height="1" fill="#6ba583"/>
<rect x="878" y="329" width="1" height="12" fill="#6a6a6a"/>
<rect x="876" y="333" width="5" height="6" fill="#5b1a13"/>
<rect x="877" y="334" width="3" height="4" fill="#d75442"/>
<rect x="884" y="336" width="1" height="3" fill="#6a6a6a"/>
<rect x="882" y="337" width="5" height="2" fill="#225437"/>
<rect x="890" y="334" width="1" height="5" fill="#6a6a6a"/>
<rect x="888" y="335" width="5" height="3" fill="#225437"/>
<rect x="889" y="336" width="3" height="1" fill="#6ba583"/>
<rect x="896" y="311" width="1" height="29" fill="#6a6a6a"/>
<rect x="894" y="312" width="5" height="24" fill="#225437"/>
<rect x="895" y="313" width="3" height="22" fill="#6ba583"/>
<rect x="902" y="306" width="1" height="9" fill="#6a6a6a"/>
<rect x="900" y="312" width="5" height="3" fill="#5b1a13"/>
<rect x="901" y="313" width="3" height="1" fill="#d75442"/>
<rect x="908" y="309" width="1" height="6" fill="#6a6a6a"/>
<rect x="906" y="312" width="5" height="3" fill="#225437"/>
<rect x="907" y="313" width="3" height="1" fill="#6ba583"/>
<rect x="914" y="302" width="1" height="11" fill="#6a6a6a"/>
<rect x="912" y="304" width="5" height="9" fill="#225437"/>
<rect x="913" y="305" width="3" height="7" fill="#6ba583"/>
<rect x="920" y="303" width="1" height="10" fill="#6a6a6a"/>
<rect x="918" y="304" width="5" height="7" fill="#5b1a13"/>
<rect x="919" y="305" width="3" height="5" fill="#d75442"/>
<rect x="926" y="307" width="1" height="7" fill="#6a6a6a"/>
<rect x="924" y="310" width="5" height="4" fill="#5b1a13"/>
<rect x="925" y="311" width="3" height="2" fill="#d75442"/>
<rect x="932" y="308" width="1" height="6" fill="#6a6a6a"/>
<rect x="930" y="308" width="5" height="6" fill="#225437"/>
<rect x="931" y="309" width="3" height="4" fill="#6ba583"/>
<rect x="938" y="304" width="1" height="5" fill="#6a6a6a"/>
<rect x="936" y="305" width="5" height="4" fill="#225437"/>
<rect x="937" y="306" width="3" height="2" fill="#6ba583"/>
<rect x="944" y="292" width="1" height="15" fill="#6a6a6a"/>
<rect x="942" y="294" width="5" height="12" fill="#225437"/>
<rect x="943" y="295" width="3" height="10" fill="#6ba583"/>
<rect x="950" y="289" width="1" height="9" fill="#6a6a6a"/>
<rect x="948" y="292" width="5" height="3" fill="#225437"/>
<rect x="949" y="293" width="3" height="1" fill="#6ba583"/>
<rect x="956" y="289" width="1" height="5" fill="#6a6a6a"/>
<rect x="954" y="292" width="5" height="2" fill="#5b1a13"/>
<rect x="962" y="290" width="1" height="4" fill="#6a6a6a"/>
<rect x="960" y="291" width="5" height="3" fill="#225437"/>
<rect x="961" y="292" width="3" height="1" fill="#6ba583"/>
<rect x="968" y="276" width="1" height="16" fill="#6a6a6a"/>
<rect x="966" y="278" width="5" height="14" fill="#225437"/>
<rect x="967" y="279" width="3" height="12" fill="#6ba583"/>
<rect x="974" y="276" width="1" height="21" fill="#6a6a6a"/>
<rect x="972" y="279" width="5" height="17" fill="#5b1a13"/>
<rect x="973" y="280" width="3" height="15" fill="#d75442"/>
<rect x="980" y="286" width="1" height="15" fill="#6a6a6a"/>
<rect x="978" y="287" width="5" height="9" fill="#225437"/>
<rect x="979" y="288" width="3" height="7" fill="#6ba583"/>
<rect x="986" y="286" width="1" height="8" fill="#6a6a6a"/>
<rect x="984" y="287" width="5" height="8" fill="#5b1a13"/>
<rect x="985" y="288" width="3" height="6" fill="#d75442"/>
<rect x="992" y="284" width="1" height="10" fill="#6a6a6a"/>
<rect x="990" y="286" width="5" height="9" fill="#225437"/>
<rect x="991" y="287" width="3" height="7" fill="#6ba583"/>
<rect x="998" y="281" width="1" height="8" fill="#6a6a6a"/>
<rect x="996" y="284" width="5" height="3" fill="#225437"/>
<rect x="997" y="285" width="3" height="1" fill="#6ba583"/>
<rect x="1004" y="282" width="1" height="7" fill="#6a6a6a"/>
<rect x="1002" y="284" width="5" height="5" fill="#5b1a13"/>
<rect x="1003" y="285" width="3" height="3" fill="#d75442"/>
<rect x="1010" y="288" width="1" height="9" fill="#6a6a6a"/>
<rect x="1008" y="288" width="5" height="6" fill="#5b1a13"/>
<rect x="1009" y="289" width="3" height="4" fill="#d75442"/>
<rect x="1016" y="288" width="1" height="5" fill="#6a6a6a"/>
<rect x="1014" y="289" width="5" height="5" fill="#225437"/>
<rect x="1015" y="290" width="3" height="3" fill="#6ba583"/>
<rect x="1022" y="276" width="1" height="13" fill="#6a6a6a"/>
<rect x="1020" y="277" width="5" height="13" fill="#225437"/>
<rect x="1021" y="278" width="3" height="11" fill="#6ba583"/>
<rect x="1028" y="276" width="1" height="5" fill="#6a6a6a"/>
<rect x="1026" y="277" width="5" height="2" fill="#5b1a13"/>
<rect x="1034" y="272" width="1" height="7" fill="#6a6a6a"/>
<rect x="1032" y="274" width="5" height="5" fill="#225437"/>
<rect x="1033" y="275" width="3" height="3" fill="#6ba583"/>
<rect x="1040" y="272" width="1" height="11" fill="#6a6a6a"/>
<rect x="1038" y="274" width="5" height="7" fill="#5b1a13"/>
<rect x="1039" y="275" width="3" height="5" fill="#d75442"/>
<rect x="1046" y="279" width="1" height="9" fill="#6a6a6a"/>
<rect x="1044" y="279" width="5" height="7" fill="#5b1a13"/>
<rect x="1045" y="280" width="3" height="5" fill="#d75442"/>
<rect x="1052" y="283" width="1" height="9" fill="#6a6a6a"/>
<rect x="1050" y="285" width="5" height="5" fill="#5b1a13"/>
<rect x="1051" y="286" width="3" height="3" fill="#d75442"/>
<rect x="1058" y="286" width="1" height="8" fill="#6a6a6a"/>
<rect x="1056" y="287" width="5" height="2" fill="#225437"/>
<rect x="1064" y="285" width="1" height="8" fill="#6a6a6a"/>
<rect x="1062" y="287" width="5" height="7" fill="#5b1a13"/>
<rect x="1063" y="288" width="3" height="5" fill="#d75442"/>
<rect x="1070" y="293" width="1" height="13" fill="#6a6a6a"/>
<rect x="1068" y="293" width="5" height="14" fill="#5b1a13"/>
<rect x="1069" y="294" width="3" height="12" fill="#d75442"/>
<rect x="1076" y="301" width="1" height="9" fill="#6a6a6a"/>
<rect x="1074" y="305" width="5" height="2" fill="#225437"/>
<rect x="1082" y="298" width="1" height="9" fill="#6a6a6a"/>
<rect x="1080" y="300" width="5" height="6" fill="#225437"/>
<rect x="1081" y="301" width="3" height="4" fill="#6ba583"/>
<rect x="1088" y="297" width="1" height="10" fill="#6a6a6a"/>
<rect x="1086" y="300" width="5" height="2" fill="#5b1a13"/>
<rect x="1094" y="298" width="1" height="7" fill="#6a6a6a"/>
<rect x="1092" y="301" width="5" height="5" fill="#5b1a13"/>
<rect x="1093" y="302" width="3" height="3" fill="#d75442"/>
<rect x="1100" y="303" width="1" height="10" fill="#6a6a6a"/>
<rect x="1098" y="306" width="5" height="4" fill="#5b1a13"/>
<rect x="1099" y="307" width="3" height="2" fill="#d75442"/>
<rect x="1106" y="306" width="1" height="9" fill="#6a6a6a"/>
<rect x="1104" y="309" width="5" height="6" fill="#5b1a13"/>
<rect x="1105" y="310" width="3" height="4" fill="#d75442"/>
<rect x="1112" y="313" width="1" height="4" fill="#6a6a6a"/>
<rect x="1110" y="314" width="5" height="1" fill="#225437"/>
</g>
</g>
<text x="15.7" y="64.7" font-size="12" fill="#4a4a4a" font-weight="bold" textLength="159" lengthAdjust="spacingAndGlyphs">Bitcoin / Dollar, 1D, HITBTC</text>
<text x="15.7" y="81.7" font-size="12" fill="#4a4a4a" textLength="79" lengthAdjust="spacingAndGlyphs">MA (50, close)</text>
<text x="15.7" y="98.2" font-size="12" fill="#4a4a4a" textLength="85.5" lengthAdjust="spacingAndGlyphs">EMA (20, close)</text>
<path d="M843,160.75 H950 Q958,160.75 958,168.75 V197.6 Q958,205.6 950,205.6 H904.6 L896.3,218.5 L888.1,205.6 H843 Q835,205.6 835,197.6 V168.75 Q835,160.75 843,160.75 Z" fill="none" stroke="#a53030" stroke-width="1.4"/>
<text x="846.2" y="180.5" font-size="12" fill="#9c1e1e" textLength="100.6" lengthAdjust="spacingAndGlyphs">Critical overhead</text>
<text x="846.2" y="192.6" font-size="12" fill="#9c1e1e" textLength="59.8" lengthAdjust="spacingAndGlyphs">resistance</text>
<rect x="7" y="293" width="32" height="16" fill="#0000ff"/>
<text x="11" y="304.8" font-size="11" fill="#fff" font-weight="bold" textLength="24" lengthAdjust="spacingAndGlyphs">EMA</text>
<rect x="7" y="299" width="25" height="16" fill="#ff0000"/>
<text x="11" y="310.8" font-size="11" fill="#fff" font-weight="bold" textLength="16.7" lengthAdjust="spacingAndGlyphs">MA</text>
<line x1="7" y1="314.5" x2="1172" y2="314.5" stroke="#6ba583" stroke-width="1" stroke-dasharray="2 1" shape-rendering="crispEdges"/>
<g shape-rendering="crispEdges">
<rect x="6" y="386" width="1224" height="1" fill="#4c4c4c"/>
<rect x="6" y="502" width="1167" height="1" fill="#4c4c4c"/>
<rect x="1172" y="43" width="1" height="460" fill="#4c4c4c"/>
</g>
<g shape-rendering="crispEdges">
<rect x="7" y="430" width="1164" height="60" fill="#f3e6fc"/>
<rect x="7" y="413" width="1164" height="1" fill="#e6e6e6"/>
<rect x="7" y="444" width="1164" height="1" fill="#dccde6"/>
<rect x="7" y="474" width="1164" height="1" fill="#dccde6"/>
<rect x="105" y="430" width="1" height="60" fill="#dccde6"/>
<rect x="207" y="430" width="1" height="60" fill="#dccde6"/>
<rect x="291" y="430" width="1" height="60" fill="#dccde6"/>
<rect x="375" y="430" width="1" height="60" fill="#dccde6"/>
<rect x="477" y="430" width="1" height="60" fill="#dccde6"/>
<rect x="555" y="430" width="1" height="60" fill="#dccde6"/>
<rect x="645" y="430" width="1" height="60" fill="#dccde6"/>
<rect x="753" y="430" width="1" height="60" fill="#dccde6"/>
<rect x="831" y="430" width="1" height="60" fill="#dccde6"/>
<rect x="921" y="430" width="1" height="60" fill="#dccde6"/>
<rect x="1011" y="430" width="1" height="60" fill="#dccde6"/>
<rect x="1089" y="430" width="1" height="60" fill="#dccde6"/>
</g>
<line x1="7" y1="429.5" x2="1172" y2="429.5" stroke="#b2b2b2" stroke-width="1" stroke-dasharray="6 5" shape-rendering="crispEdges"/>
<line x1="7" y1="490.5" x2="1172" y2="490.5" stroke="#b2b2b2" stroke-width="1" stroke-dasharray="6 5" shape-rendering="crispEdges"/>
<clipPath id="rc"><rect x="7" y="387" width="1165" height="115"/></clipPath>
<polyline clip-path="url(#rc)" points="7,446.40 8.5,443.40 14.5,433.60 20.5,437.10 26.5,435.90 32.5,432.40 38.5,430.10 44.5,434.30 50.5,432.40 56.5,439.40 62.5,435.90 68.5,427.80 74.5,422.00 80.5,418.00 86.5,416.10 92.5,421.50 98.5,419.20 104.5,412.60 110.5,411.00 116.5,409.80 122.5,407.30 128.5,407.30 134.5,398.20 140.5,393.50 146.5,408.00 152.5,422.40 158.5,421.30 164.5,414.50 170.5,418.50 176.5,423.10 182.5,422.00 188.5,416.80 194.5,411.20 200.5,414.10 206.5,415.40 212.5,434.80 218.5,445.30 224.5,449.90 230.5,462.80 236.5,463.20 242.5,465.50 248.5,464.40 254.5,449.20 260.5,451.60 266.5,460.40 272.5,460.90 278.5,473.20 284.5,462.30 290.5,465.50 296.5,456.50 302.5,453.40 308.5,453.40 314.5,442.50 320.5,441.30 326.5,449.50 332.5,458.10 338.5,462.30 344.5,459.70 350.5,469.00 356.5,465.50 362.5,462.30 368.5,466.20 374.5,466.70 380.5,481.40 386.5,481.40 392.5,481.40 398.5,475.60 404.5,465.80 410.5,473.20 416.5,477.40 422.5,477.40 428.5,472.50 434.5,473.20 440.5,474.40 446.5,469.30 452.5,465.50 458.5,471.40 464.5,478.40 470.5,477.40 476.5,484.20 482.5,485.60 488.5,482.60 494.5,488.40 500.5,494.20 506.5,485.40 512.5,486.50 518.5,479.10 524.5,474.40 530.5,475.60 536.5,479.10 542.5,469.30 548.5,472.50 554.5,462.80 560.5,457.60 566.5,456.20 572.5,448.80 578.5,453.40 584.5,447.60 590.5,444.60 596.5,451.10 602.5,461.60 608.5,457.60 614.5,462.00 620.5,464.40 626.5,457.40 632.5,454.10 638.5,456.50 644.5,451.60 650.5,449.20 656.5,445.30 662.5,446.40 668.5,445.30 674.5,455.80 680.5,463.90 686.5,471.40 692.5,471.40 698.5,477.20 704.5,468.60 710.5,471.60 716.5,471.60 722.5,479.50 728.5,480.70 734.5,479.50 740.5,483.30 746.5,476.70 752.5,470.20 758.5,466.20 764.5,466.50 770.5,469.20 776.5,465.80 782.5,471.40 788.5,472.80 794.5,477.40 800.5,481.40 806.5,479.80 812.5,487.90 818.5,490.30 824.5,488.40 830.5,489.10 836.5,484.40 842.5,475.60 848.5,483.30 854.5,484.40 860.5,485.40 866.5,479.80 872.5,477.40 878.5,480.70 884.5,478.60 890.5,477.20 896.5,453.40 902.5,454.60 908.5,452.30 914.5,446.90 920.5,452.70 926.5,456.20 932.5,451.60 938.5,448.30 944.5,441.10 950.5,438.30 956.5,440.10 962.5,438.30 968.5,430.10 974.5,448.10 980.5,443.40 986.5,449.90 992.5,444.60 998.5,443.40 1004.5,447.60 1010.5,452.30 1016.5,449.20 1022.5,440.60 1028.5,441.80 1034.5,438.70 1040.5,445.30 1046.5,452.30 1052.5,455.30 1058.5,453.90 1064.5,460.40 1070.5,471.40 1076.5,470.20 1082.5,465.80 1088.5,465.80 1094.5,469.70 1100.5,473.20 1106.5,478.40 1112.5,477.40" fill="none" stroke="#9b27af" stroke-width="1.1" stroke-linejoin="round"/>
<text x="15.2" y="408" font-size="12" fill="#4a4a4a" textLength="77.6" lengthAdjust="spacingAndGlyphs">RSI (14, close)</text>
<rect x="1144" y="470" width="27" height="16" fill="#8b1aa0"/>
<text x="1148" y="482" font-size="11" fill="#fff" font-weight="bold" textLength="18.2" lengthAdjust="spacingAndGlyphs">RSI</text>
<g shape-rendering="crispEdges">
<rect x="1172" y="51" width="4" height="1" fill="#4c4c4c"/>
<rect x="1172" y="95" width="4" height="1" fill="#4c4c4c"/>
<rect x="1172" y="139" width="4" height="1" fill="#4c4c4c"/>
<rect x="1172" y="183" width="4" height="1" fill="#4c4c4c"/>
<rect x="1172" y="228" width="4" height="1" fill="#4c4c4c"/>
<rect x="1172" y="272" width="4" height="1" fill="#4c4c4c"/>
<rect x="1172" y="316" width="4" height="1" fill="#4c4c4c"/>
<rect x="1172" y="360" width="4" height="1" fill="#4c4c4c"/>
<rect x="1172" y="413" width="4" height="1" fill="#4c4c4c"/>
<rect x="1172" y="444" width="4" height="1" fill="#4c4c4c"/>
<rect x="1172" y="474" width="4" height="1" fill="#4c4c4c"/>
<rect x="105" y="502" width="1" height="4" fill="#4c4c4c"/>
<rect x="207" y="502" width="1" height="4" fill="#4c4c4c"/>
<rect x="291" y="502" width="1" height="4" fill="#4c4c4c"/>
<rect x="375" y="502" width="1" height="4" fill="#4c4c4c"/>
<rect x="477" y="502" width="1" height="4" fill="#4c4c4c"/>
<rect x="555" y="502" width="1" height="4" fill="#4c4c4c"/>
<rect x="645" y="502" width="1" height="4" fill="#4c4c4c"/>
<rect x="753" y="502" width="1" height="4" fill="#4c4c4c"/>
<rect x="831" y="502" width="1" height="4" fill="#4c4c4c"/>
<rect x="921" y="502" width="1" height="4" fill="#4c4c4c"/>
<rect x="1011" y="502" width="1" height="4" fill="#4c4c4c"/>
<rect x="1089" y="502" width="1" height="4" fill="#4c4c4c"/>
</g>
<text x="1180" y="56.2" font-size="10.5" fill="#4f4f4f" textLength="44.2" lengthAdjust="spacingAndGlyphs">20000.00</text>
<text x="1180" y="100.2" font-size="10.5" fill="#4f4f4f" textLength="44.2" lengthAdjust="spacingAndGlyphs">18000.00</text>
<text x="1180" y="144.2" font-size="10.5" fill="#4f4f4f" textLength="44.2" lengthAdjust="spacingAndGlyphs">16000.00</text>
<text x="1180" y="188.2" font-size="10.5" fill="#4f4f4f" textLength="44.2" lengthAdjust="spacingAndGlyphs">14000.00</text>
<text x="1179" y="418.0" font-size="10.5" fill="#4f4f4f" textLength="40" lengthAdjust="spacingAndGlyphs">80.0000</text>
<text x="1179" y="449.0" font-size="10.5" fill="#4f4f4f" textLength="40" lengthAdjust="spacingAndGlyphs">60.0000</text>
<text x="1179" y="479.0" font-size="10.5" fill="#4f4f4f" textLength="40" lengthAdjust="spacingAndGlyphs">40.0000</text>
<rect x="1172" y="217" width="57" height="16" fill="#990000"/>
<rect x="1172" y="224" width="3" height="1" fill="#ffffff" shape-rendering="crispEdges"/>
<text x="1179.4" y="228.9" font-size="11" fill="#fff" font-weight="bold" textLength="45.4" lengthAdjust="spacingAndGlyphs">12172.43</text>
<rect x="1172" y="265" width="57" height="16" fill="#990000"/>
<rect x="1172" y="272" width="3" height="1" fill="#ffffff" shape-rendering="crispEdges"/>
<text x="1179.4" y="276.7" font-size="11" fill="#fff" font-weight="bold" textLength="45.4" lengthAdjust="spacingAndGlyphs">10000.00</text>
<rect x="1172" y="307" width="51" height="16" fill="#6ba583"/>
<rect x="1172" y="314" width="3" height="1" fill="#ffffff" shape-rendering="crispEdges"/>
<text x="1179.4" y="318.6" font-size="11" fill="#fff" font-weight="bold" textLength="39.7" lengthAdjust="spacingAndGlyphs">8103.64</text>
<rect x="1172" y="323" width="51" height="16" fill="#990000"/>
<rect x="1172" y="330" width="3" height="1" fill="#ffffff" shape-rendering="crispEdges"/>
<text x="1179.4" y="334.6" font-size="11" fill="#fff" font-weight="bold" textLength="39.7" lengthAdjust="spacingAndGlyphs">7941.68</text>
<rect x="1172" y="352" width="51" height="16" fill="#990000"/>
<rect x="1172" y="359" width="3" height="1" fill="#ffffff" shape-rendering="crispEdges"/>
<text x="1179.4" y="363.6" font-size="11" fill="#fff" font-weight="bold" textLength="39.7" lengthAdjust="spacingAndGlyphs">6075.04</text>
<clipPath id="tc"><rect x="7" y="503" width="1165" height="18"/></clipPath>
<g clip-path="url(#tc)">
<text x="3.5" y="516.7" font-size="11" fill="#4f4f4f" text-anchor="middle">14</text>
<text x="105.5" y="516.7" font-size="11" fill="#4f4f4f" text-anchor="middle">Dec</text>
<text x="207.5" y="516.7" font-size="11" fill="#4f4f4f" text-anchor="middle">18</text>
<text x="291.5" y="516.7" font-size="11" fill="#4f4f4f" font-weight="bold" text-anchor="middle">2018</text>
<text x="375.5" y="516.7" font-size="11" fill="#4f4f4f" text-anchor="middle">15</text>
<text x="477.5" y="516.7" font-size="11" fill="#4f4f4f" text-anchor="middle">Feb</text>
<text x="555.5" y="516.7" font-size="11" fill="#4f4f4f" text-anchor="middle">14</text>
<text x="645.5" y="516.7" font-size="11" fill="#4f4f4f" text-anchor="middle">Mar</text>
<text x="753.5" y="516.7" font-size="11" fill="#4f4f4f" text-anchor="middle">19</text>
<text x="831.5" y="516.7" font-size="11" fill="#4f4f4f" text-anchor="middle">Apr</text>
<text x="921.5" y="516.7" font-size="11" fill="#4f4f4f" text-anchor="middle">16</text>
<text x="1011.5" y="516.7" font-size="11" fill="#4f4f4f" text-anchor="middle">May</text>
<text x="1089.5" y="516.7" font-size="11" fill="#4f4f4f" text-anchor="middle">14</text>
</g>
<text x="6.8" y="545" font-size="13" fill="#0c0c0c" textLength="71.8" lengthAdjust="spacingAndGlyphs">Created with</text>
<path d="M90,545.9 Q88,545.9 88,542 Q88,538 92,537.5 Q93,531.5 99.5,531.3 Q105,531.5 106.5,536 Q111.8,537 111.8,541.5 Q111.8,545.9 108,545.9 Z" fill="#5bc0e6"/>
<polyline points="89.3,544.5 97.5,536.5 102.8,544 109.2,536" fill="none" stroke="#f1f4f8" stroke-width="1.6"/>
<text x="118.3" y="544.6" font-size="12.5" fill="#3fa9e0" textLength="70" lengthAdjust="spacingAndGlyphs">TradingView</text>
</svg>
</body></html>
